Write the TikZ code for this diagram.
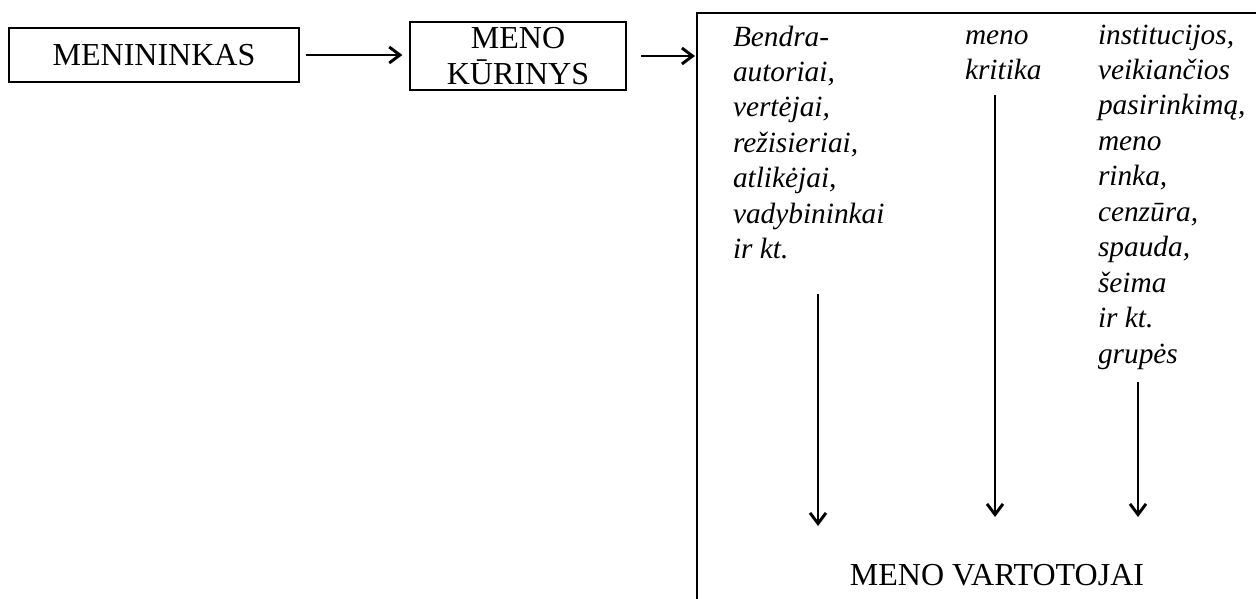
\documentclass[tikz,border=0pt]{standalone}
\usepackage{fontspec}
\setmainfont{Liberation Serif}
\usetikzlibrary{arrows.meta,calc}
\newcommand{\bigtext}{\fontsize{24}{26.6}\selectfont}
\newcommand{\coltext}{\fontsize{22}{26.6}\selectfont\itshape}

\begin{document}
\begin{tikzpicture}[>={Straight Barb[length=8pt,width=12pt,line width=2.2pt]},
  x=0.75pt,y=-0.75pt,line width=1.5pt,
  box/.style={draw,inner sep=0pt,align=center,font=\bigtext},
  column/.style={anchor=north west,inner sep=0pt,align=left,font=\coltext}]
  % Configurable parameters
  \def\gap{4.5pt}
  \useasboundingbox (0,0) rectangle (1256,599);
  %
  % Boxes
  \node[box,minimum width=217.5pt,minimum height=40.5pt] (menininkas) at (154,55)
    {MENININKAS};
  \node[box,minimum width=162pt,minimum height=51pt] (kurinys) at (518,56)
    {MENO\\KŪRINYS};
  %
  % Open frame
  \coordinate (frame) at (697,13);
  \draw (697,599) -- (frame) -- (1256,13);
  %
  % Columns
  \node[column] (bendra) at (732,20.2)
    {\strut Bendra-\\autoriai,\\vertėjai,\\režisieriai,\\atlikėjai,\\vadybininkai\\ir kt.};
  \node[column] (kritika) at (964,18.2) {\strut meno\\kritika};
  \node[column] (grupes) at (1097,18.2)
    {\strut institucijos,\\veikiančios\\pasirinkimą,\\meno\\rinka,\\cenzūra,\\spauda,\\šeima\\ir kt.\\grupės};
  \node[anchor=base,inner sep=0pt,font=\bigtext] (vartotojai) at (997,585)
    {MENO VARTOTOJAI};
  %
  % Arrows
  \draw[->,shorten <=\gap,shorten >=5pt] (menininkas.east) -- (menininkas.east -| kurinys.west);
  \draw[->,shorten <=10.5pt,shorten >=1.5pt] (kurinys.east) -- (kurinys.east -| frame);
  \coordinate (t1) at (818,294); \coordinate (e1) at (818,526);
  \coordinate (t2) at (995,95);  \coordinate (e2) at (995,517);
  \coordinate (t3) at (1138,382); \coordinate (e3) at (1138,517);
  \draw[->] (t1) -- (e1);
  \draw[->] (t2) -- (e2);
  \draw[->] (t3) -- (e3);
  %
\end{tikzpicture}
\end{document}
